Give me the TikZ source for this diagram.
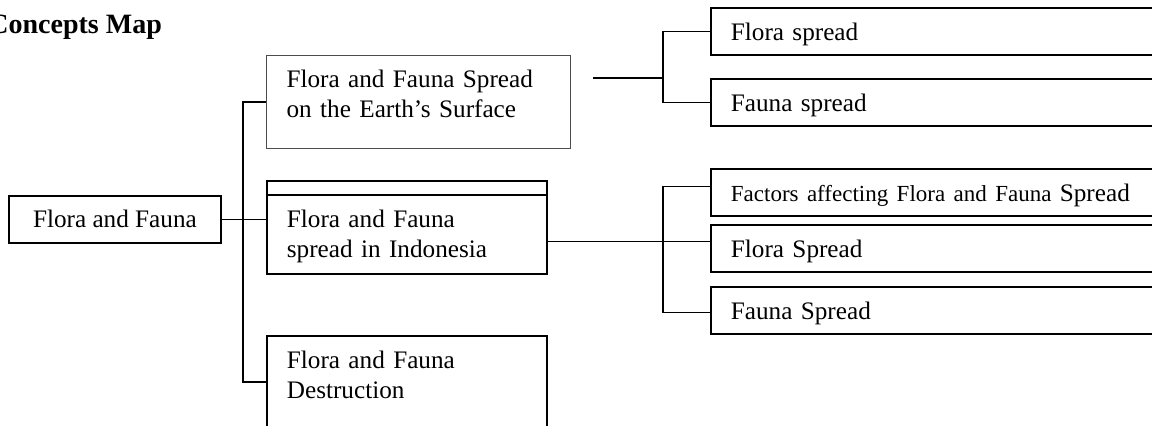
\documentclass[tikz,border=0pt]{standalone}
\usepackage{fontspec}
\setmainfont{Liberation Serif}
\usetikzlibrary{calc}
\tikzset{
	concept/.style={draw, line width=0.9pt, anchor=north west, inner xsep=10pt,
		inner ysep=0pt, align=left, font=\fontsize{12.6}{15}\selectfont},
	leaf/.style={concept, text width=210pt, text height=16.5pt, text depth=7pt},
	link/.style={line width=0.9pt}
}

\begin{document}
\begin{tikzpicture}[x=0.5pt,y=-0.5pt]
	\useasboundingbox (0,0) rectangle (1152,425);
	\clip (0,0) rectangle (1152,425);
	
	\node[anchor=base west, inner sep=0pt, font=\fontsize{14}{16}\selectfont\bfseries]
		(title) at (-12,33) {Concepts Map};
	
	\node[concept, minimum width=106pt, text height=16pt, text depth=7.5pt]
		(root) at (8,195) {Flora and Fauna};
	\node[concept, draw=black!70, line width=0.6pt, text width=132pt,
		text height=16pt, text depth=30.5pt]
		(surf) at (266,55) {Flora and Fauna Spread\\on the Earth's Surface};
	\node[concept, text width=120pt, text height=23.5pt, text depth=23pt]
		(indo) at (266,180) {Flora and Fauna\\spread in Indonesia};
	\node[concept, text width=120pt, text height=16.5pt, text depth=29.5pt]
		(destr) at (266,335) {Flora and Fauna\\Destruction};
	
	\node[leaf] (flora1) at (710,7) {Flora spread};
	\node[leaf] (fauna1) at (710,78) {Fauna spread};
	\node[leaf] (factor) at (710,168)
		{{\fontsize{11.5}{15}\selectfont Factors affecting Flora and Fauna} Spread};
	\node[leaf] (flora2) at (710,224) {Flora Spread};
	\node[leaf] (fauna2) at (710,286) {Fauna Spread};
	
	\draw[link] ([yshift=-7.5pt]indo.north west) -- ([yshift=-7.5pt]indo.north east);
	
%	=======================================
	
	\coordinate (spine) at (243,218);
	\coordinate (tail1) at (593,78);
	\coordinate (hub1) at (663,78);
	\coordinate (hub2) at (663,241);
	
	\draw[link] (root.east) -- (root.east -| indo.west);
	\draw[link] (surf.west) -| (spine) |- (destr.west);
	
	\draw[link] (tail1) -- (hub1);
	\draw[link] (flora1.west) -| (hub1) |- (fauna1.west);
	
	\draw[link] ([yshift=-7pt]indo.east) -- ([yshift=-7pt]indo.east -| flora2.west);
	\draw[link] ([yshift=3pt]factor.west) -| (hub2) |- ([yshift=-1pt]fauna2.west);
\end{tikzpicture}
\end{document}
